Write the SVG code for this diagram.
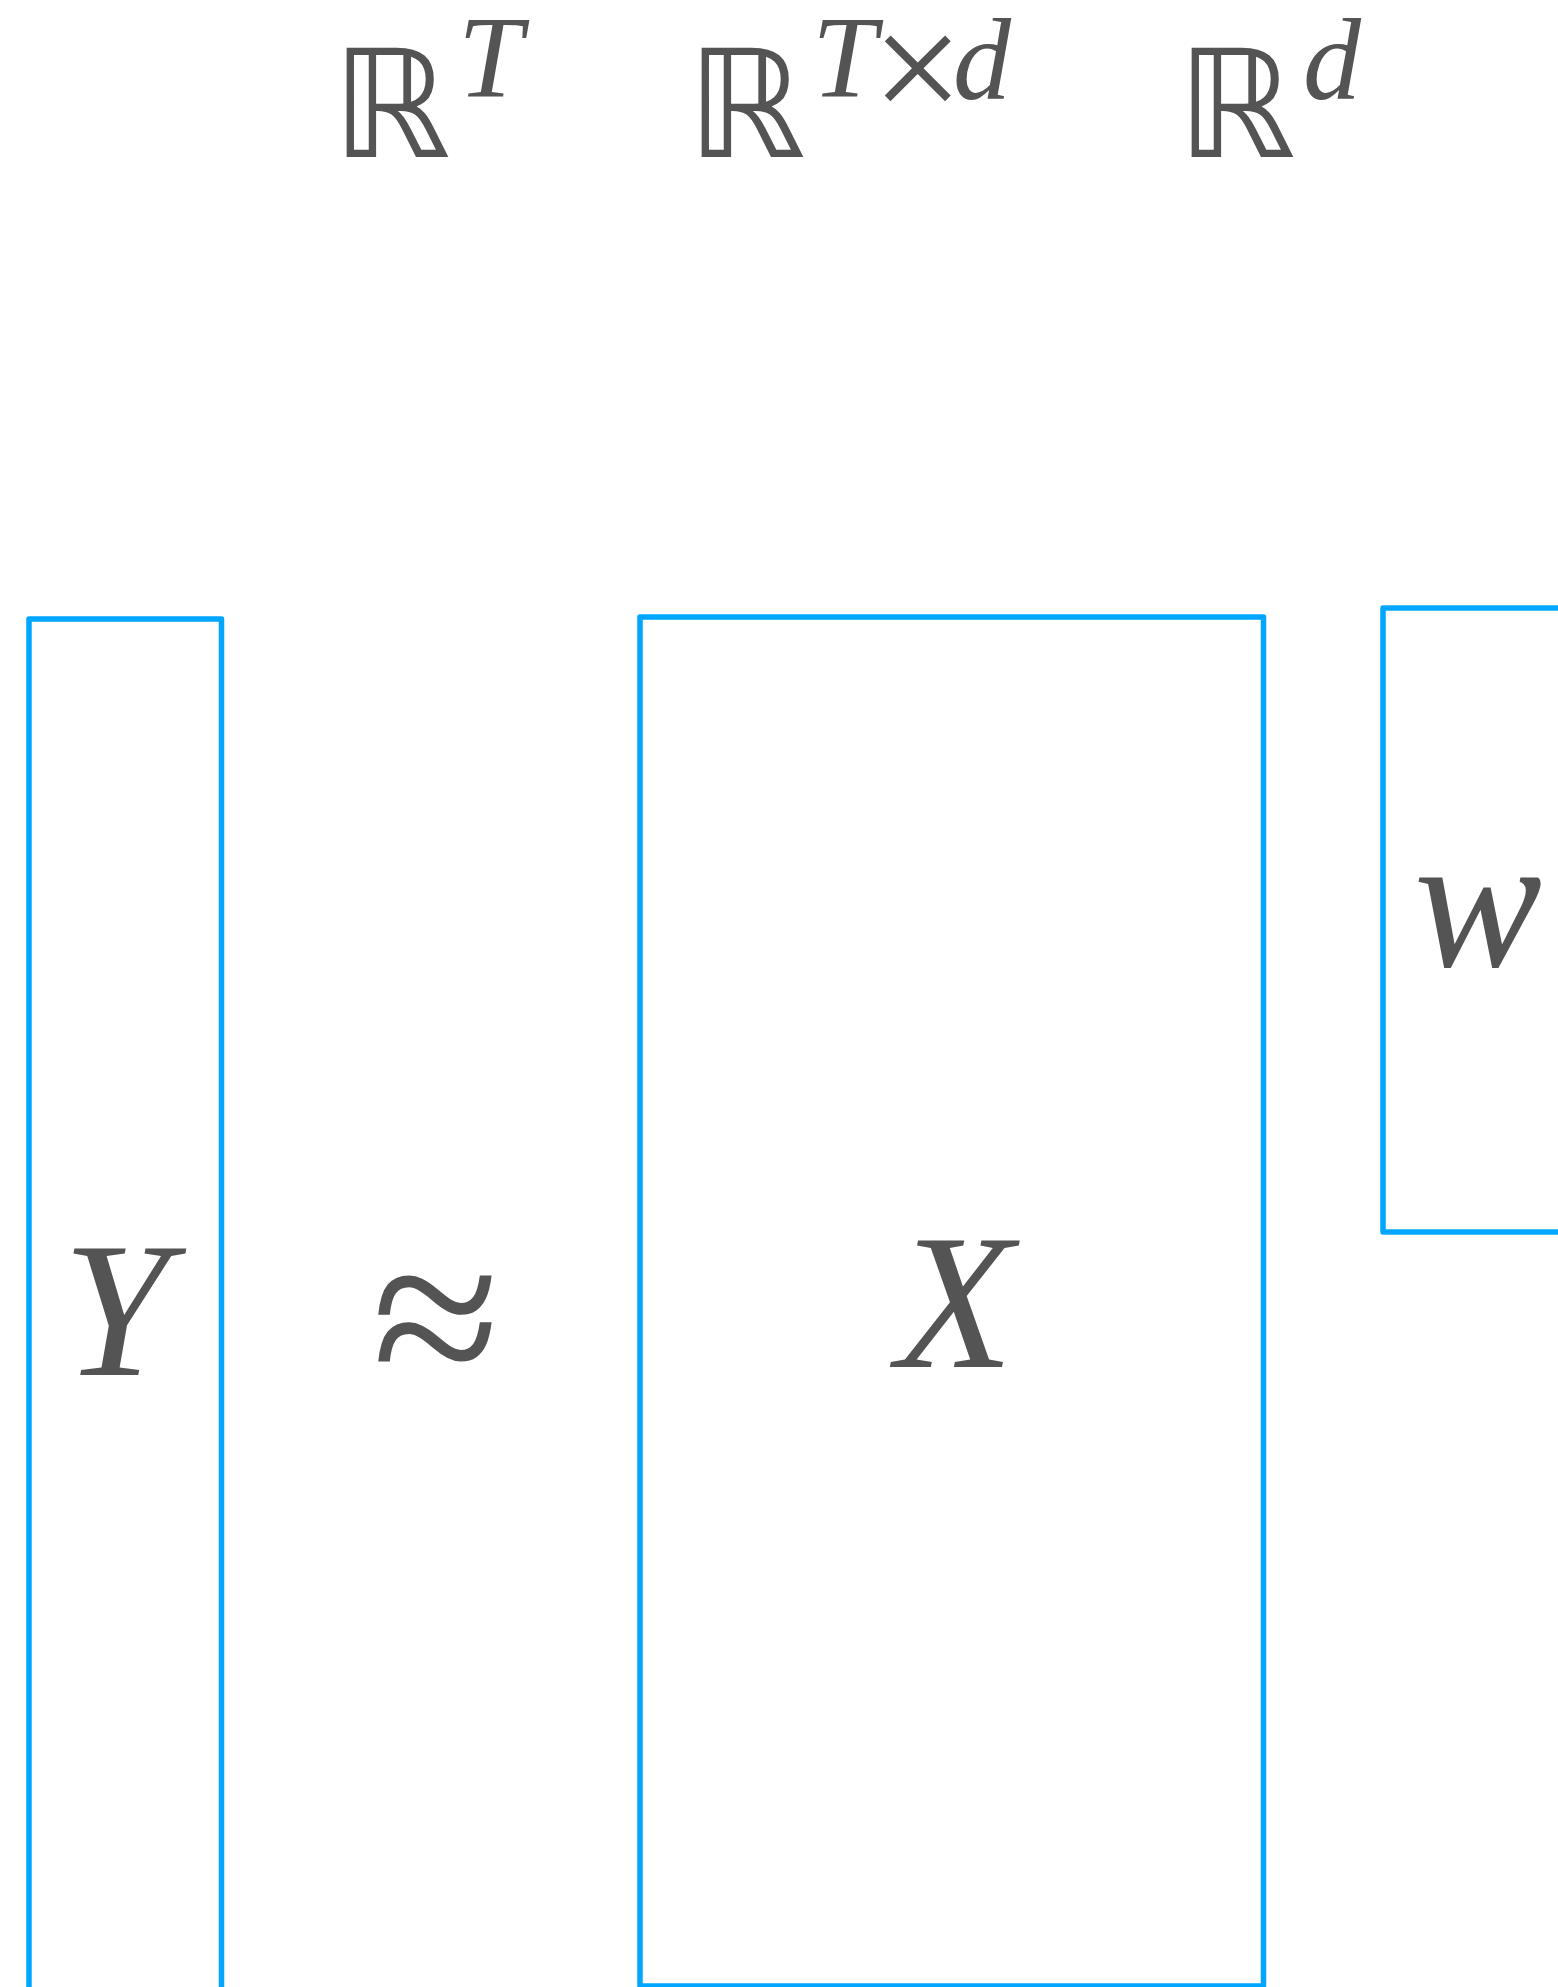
<svg xmlns="http://www.w3.org/2000/svg" width="1558" height="1987" viewBox="0 0 1558 1987">
<style>
.box{fill:none;stroke:#00a6ff;stroke-width:5.5;stroke-linejoin:round}
.bb{font-family:"DejaVu Sans",sans-serif;font-size:150px;fill:#545454}
.it{font-family:"Liberation Serif",serif;font-style:italic;fill:#545454}
.up{font-family:"Liberation Serif",serif;fill:#545454}
.sup{font-size:116px}
.main{font-size:192px}
</style>
<rect x="0" y="0" width="1558" height="1987" fill="#ffffff"/>
<g id="label-RT">
<text class="bb" x="332" y="157">ℝ</text>
<text class="it sup" x="458" y="97">T</text>
</g>
<g id="label-RTd">
<text class="bb" x="687" y="157">ℝ</text>
<text class="it sup" x="812" y="97">T</text>
<text class="up" font-size="162" x="872" y="122">×</text>
<text class="it sup" x="953" y="99">d</text>
</g>
<g id="label-Rd">
<text class="bb" x="1177" y="157">ℝ</text>
<text class="it sup" x="1303" y="99">d</text>
</g>
<g id="node-Y">
<rect class="box" x="29" y="619" width="192.5" height="1500"/>
<text class="it main" x="116" y="1375" text-anchor="middle">Y</text>
</g>
<g id="node-approx">
<text class="up" font-size="234" x="436" y="1396" text-anchor="middle">≈</text>
</g>
<g id="node-X">
<rect class="box" x="640" y="617" width="623.5" height="1369"/>
<text class="it main" x="955" y="1367" text-anchor="middle">X</text>
</g>
<g id="node-w">
<rect class="box" x="1383" y="608" width="400" height="624"/>
<text class="it main" x="1478" y="966" text-anchor="middle">w</text>
</g>
<g id="connectors"/>
</svg>
